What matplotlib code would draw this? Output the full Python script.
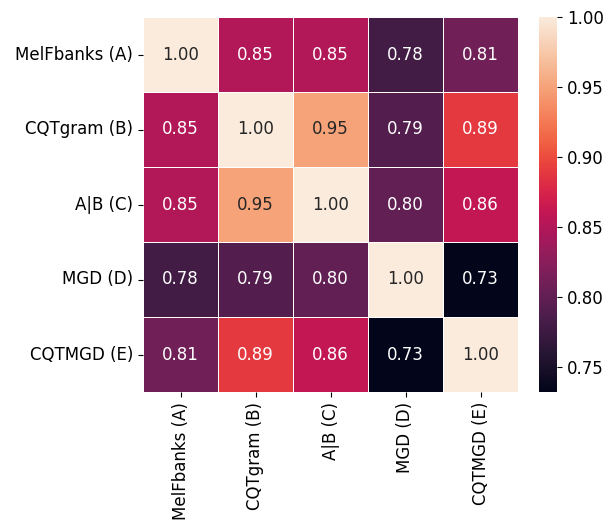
import numpy as np
import matplotlib
matplotlib.use("Agg")
import matplotlib.pyplot as plt
import seaborn as sns

labels = ["MelFbanks (A)", "CQTgram (B)", "A|B (C)", "MGD (D)", "CQTMGD (E)"]
corr = [
    [1.00, 0.85, 0.85, 0.78, 0.81],
    [0.85, 1.00, 0.95, 0.79, 0.89],
    [0.85, 0.95, 1.00, 0.80, 0.86],
    [0.78, 0.79, 0.80, 1.00, 0.732],
    [0.81, 0.89, 0.86, 0.732, 1.00],
]

plt.rcParams['font.family'] = ['DejaVu Sans']
fig = plt.figure(figsize=(6.16, 5.2), dpi=100)
ax = fig.add_axes([143 / 616, 1 - 392 / 520, 375 / 616, 375 / 520])
cax = fig.add_axes([539 / 616, 1 - 392 / 520, 18 / 616, 375 / 520])

sns.heatmap(np.array(corr), annot=True, fmt=".2f", linewidths=0.5, linecolor="white",
            xticklabels=labels, yticklabels=labels, ax=ax, cbar_ax=cax,
            annot_kws={"size": 12})
ax.tick_params(labelsize=12)
cax.tick_params(labelsize=12)
plt.setp(ax.get_xticklabels(), rotation=90)
plt.setp(ax.get_yticklabels(), rotation=0)
cax.set_yticks([0.75, 0.80, 0.85, 0.90, 0.95, 1.00])
cax.set_yticklabels(["0.75", "0.80", "0.85", "0.90", "0.95", "1.00"])

fig.savefig("out.png", dpi=100)
